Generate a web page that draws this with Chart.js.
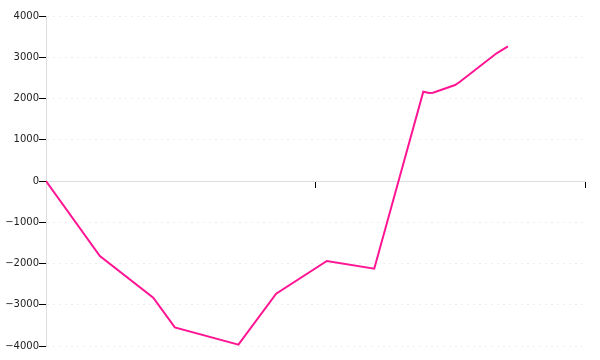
<!DOCTYPE html>
<html>
<head>
<meta charset="utf-8">
<script src="https://cdn.jsdelivr.net/npm/chart.js@4"></script>
<style>
  html, body { margin: 0; padding: 0; background: #fff; }
  #wrap { width: 600px; height: 360px; }
</style>
</head>
<body>
<div id="wrap"><canvas id="my-chart"></canvas></div>
<script>
// values (x on a 0..100 scale)
var xs = [0, 10.0, 19.9, 23.9, 35.7, 42.7, 52.1, 60.9, 70.0, 71.1, 71.8, 75.9, 76.8, 83.6, 85.7];
var ys = [0, -1818, -2830, -3550, -3968, -2731, -1939, -2126, 2165, 2133, 2140, 2327, 2407, 3096, 3265];
var yTicks = [-4000, -3000, -2000, -1000, 0, 1000, 2000, 3000, 4000];
var xTicks = [0, 50, 100];

var points = [];
for (var i in xs) {
  points.push({x: xs[i], y: ys[i]});
}

Chart.defaults.font.family = "DejaVu Sans";
Chart.defaults.font.size = 10;
Chart.defaults.color = "#222";

var ctx = document.getElementById("my-chart");
var LineGraph = new Chart(ctx, {
  type: 'line',
  data: {
    datasets: [{
      data: points,
      borderColor: "rgb(255, 20, 147)",
      borderWidth: 2,
      pointRadius: 0,
      tension: 0,
      fill: false
    }]
  },
  options: {
    responsive: true,
    maintainAspectRatio: false,
    animation: false,
    layout: { padding: { top: 16, right: 15, bottom: 14, left: 0 } },
    plugins: { legend: { display: false }, tooltip: { enabled: false } },
    scales: {
      x: {
        type: 'linear',
        position: { y: 0 },
        min: 0,
        max: 100,
        afterBuildTicks: function(axis) {
          axis.ticks = xTicks.map(function(v) { return {value: v}; });
        },
        ticks: { callback: function() { return ''; } },
        grid: { drawOnChartArea: false, tickColor: '#000', tickLength: 6 },
        border: { color: '#ddd', width: 1 }
      },
      y: {
        min: -4000,
        max: 4000,
        afterBuildTicks: function(axis) {
          axis.ticks = yTicks.map(function(v) { return {value: v}; });
        },
        afterFit: function(axis) { axis.width = 46; },
        ticks: {
          padding: 0,
          callback: function(v) { return String(v).replace('-', '\u2212'); }
        },
        grid: { color: '#eee', tickColor: '#000', tickLength: 7 },
        border: { color: '#ddd', width: 1, dash: [2, 4] }
      }
    }
  }
});
</script>
</body>
</html>
